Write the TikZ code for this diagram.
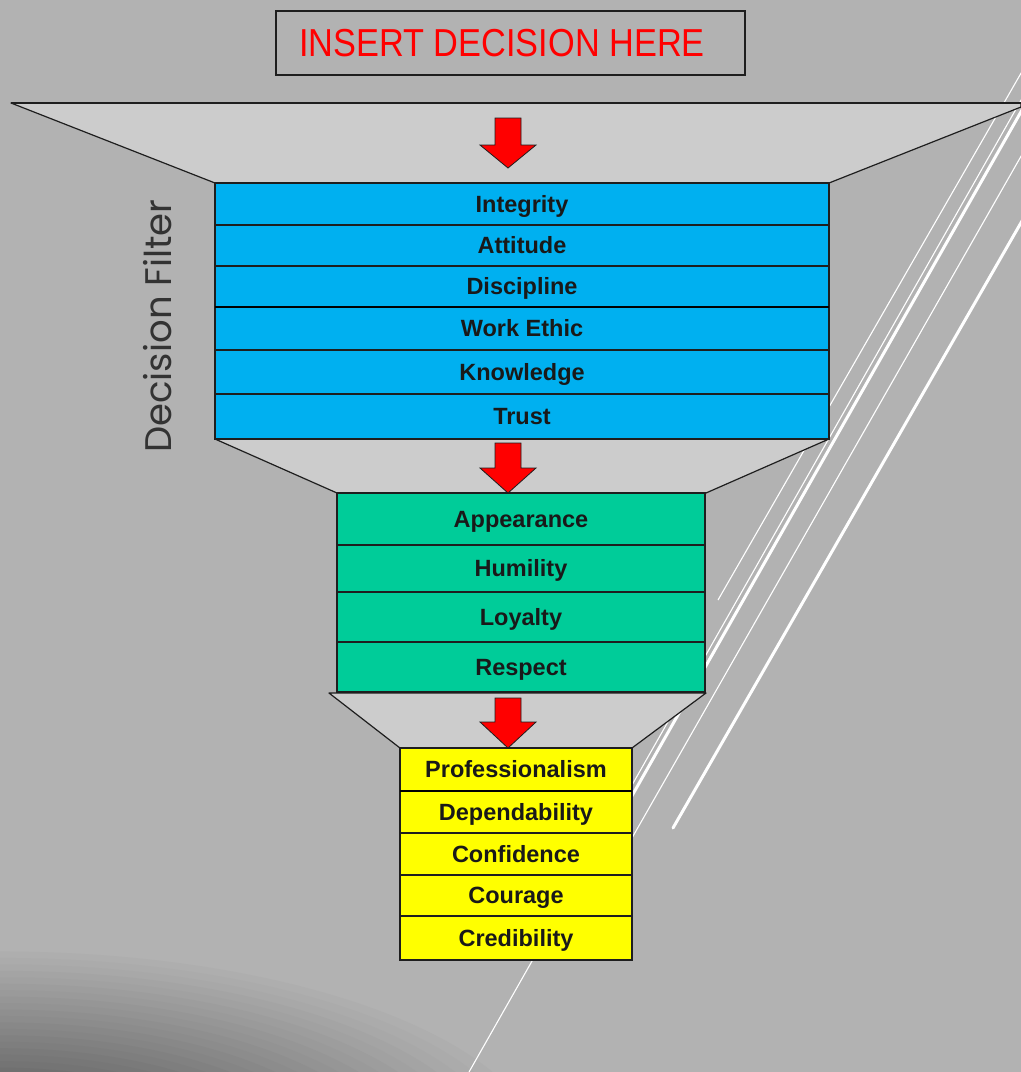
\documentclass[tikz,border=0pt]{standalone}
\usepackage{fontspec}
\setmainfont{Liberation Sans}
\newfontfamily\filterfont{Poppins}
\usetikzlibrary{calc}
\definecolor{bgcol}{HTML}{B2B2B2}
\definecolor{funnelcol}{HTML}{CCCCCC}
\definecolor{bluecol}{HTML}{00B0F0}
\definecolor{greencol}{HTML}{00CC99}
\definecolor{yellowcol}{HTML}{FFFF00}
\definecolor{redcol}{HTML}{FF0000}
\definecolor{edgecol}{HTML}{1E1E1E}
\definecolor{filtertext}{HTML}{333333}
\tikzset{
  funnel/.style={fill=funnelcol, draw=edgecol, line width=1.2pt, line join=round},
  row/.style={draw=edgecol, line width=1.2pt, inner sep=0pt, outer sep=0pt,
    font=\fontsize{23.5}{26}\selectfont\bfseries, text=black!90,
    text height=16.8pt, text depth=0pt},
  bluerow/.style={row, fill=bluecol, minimum width=614pt},
  greenrow/.style={row, fill=greencol, minimum width=368pt},
  yellowrow/.style={row, fill=yellowcol, minimum width=232pt},
  arrowshape/.style={fill=redcol, draw=edgecol, line width=0.8pt, line join=miter},
  thinline/.style={draw=white, line width=1.1pt},
  thickline/.style={draw=white, line width=3pt, line cap=round},
  sepline/.style={draw=black, line width=2.4pt},
  rowtext/.style={yshift=-2pt},
}
\newcommand{\redarrowshape}[4]{% x, top, head start, tip
  \draw[arrowshape] ({#1-13},#2) -- ({#1+13},#2) -- ({#1+13},#3) -- ({#1+28},#3)
    -- (#1,#4) -- ({#1-28},#3) -- ({#1-13},#3) -- cycle;}
\begin{document}
\begin{tikzpicture}[x=1pt,y=-1pt]
\useasboundingbox (0,0) rectangle (1021,1072);
\fill[bgcol] (0,0) rectangle (1021,1072);
% dark sweep in the lower left corner
\begin{scope}
  \clip (0,0) rectangle (1021,1072);
  \foreach \r in {1.00,0.97,...,0.28} {
    \pgfmathsetmacro{\pct}{35+65*\r}
    \fill[bgcol!\pct!black] (0,1160) ellipse [x radius={560*\r}, y radius={215*\r}];
  }
\end{scope}
% white diagonal lines (behind the funnel)
\begin{scope}
  \clip (0,0) rectangle (1021,1072);
  \draw[thinline] (1024,68) -- (718,600);
  \draw[thinline] (1024,95) -- (469,1072);
  \draw[thickline, line cap=butt] (1026,103) -- (604,845);
  \draw[thinline] (1024,151) -- (608,880);
  \draw[thickline] (1026,214) -- (673,828);
\end{scope}
% title
\node[draw=edgecol, line width=1.2pt, minimum width=469pt, minimum height=64pt, inner sep=0pt] (title) at (510.5,43) {};
\node[text=redcol, inner sep=0pt, anchor=center] (titletext) at (502,43)
  {\scalebox{0.88}[1]{\fontsize{39}{40}\selectfont INSERT DECISION HERE}};
% funnels
\draw[funnel] (11,103) -- (1021,103) -- (1021,107) -- (829,183) -- (215,183) -- cycle;
\draw[funnel] (215,439) -- (829,439) -- (706,493) -- (337,493) -- cycle;
\draw[funnel] (329,693) -- (706,693) -- (632,748) -- (400,748) -- cycle;
\draw[edgecol, line width=1.6pt] (11,103) -- (1021,103);
% blue rows
\node[bluerow, minimum height=42pt] (integrity)  at (522,204)   {Integrity};
\node[bluerow, minimum height=41pt] (attitude)   at (522,245.5) {Attitude};
\node[bluerow, minimum height=41pt] (discipline) at (522,286.5) {Discipline};
\node[bluerow, minimum height=43pt] (workethic)  at (522,328.5) {Work Ethic};
\node[bluerow, minimum height=44pt] (knowledge)  at (522,372)   {Knowledge};
\node[bluerow, minimum height=45pt] (trust)      at (522,416.5) {Trust};
\draw[sepline] (discipline.south west) -- (discipline.south east);
% green rows
\node[greenrow, minimum height=52pt] (appearance) at (521,519)   {Appearance};
\node[greenrow, minimum height=47pt] (humility)   at (521,568.5) {Humility};
\node[greenrow, minimum height=50pt] (loyalty)    at (521,617)   {Loyalty};
\node[greenrow, minimum height=50pt] (respect)    at (521,667)   {Respect};
% yellow rows
\node[yellowrow, minimum height=43pt] (prof)  at (516,769.5) {Professionalism};
\node[yellowrow, minimum height=42pt] (dep)   at (516,812)   {Dependability};
\node[yellowrow, minimum height=42pt] (conf)  at (516,854)   {Confidence};
\node[yellowrow, minimum height=41pt] (cour)  at (516,895.5) {Courage};
\node[yellowrow, minimum height=44pt] (cred)  at (516,938)   {Credibility};
\draw[sepline] (prof.south west) -- (prof.south east);
% red arrows
\redarrowshape{508}{118}{145}{168}
\redarrowshape{508}{443}{468}{493}
\redarrowshape{508}{698}{722}{748}
% side label
\node[rotate=90, text=filtertext, inner sep=0pt] (filterlabel) at (158,326)
  {\filterfont\fontsize{37}{40}\selectfont Decision Filter};
\end{tikzpicture}
\end{document}
